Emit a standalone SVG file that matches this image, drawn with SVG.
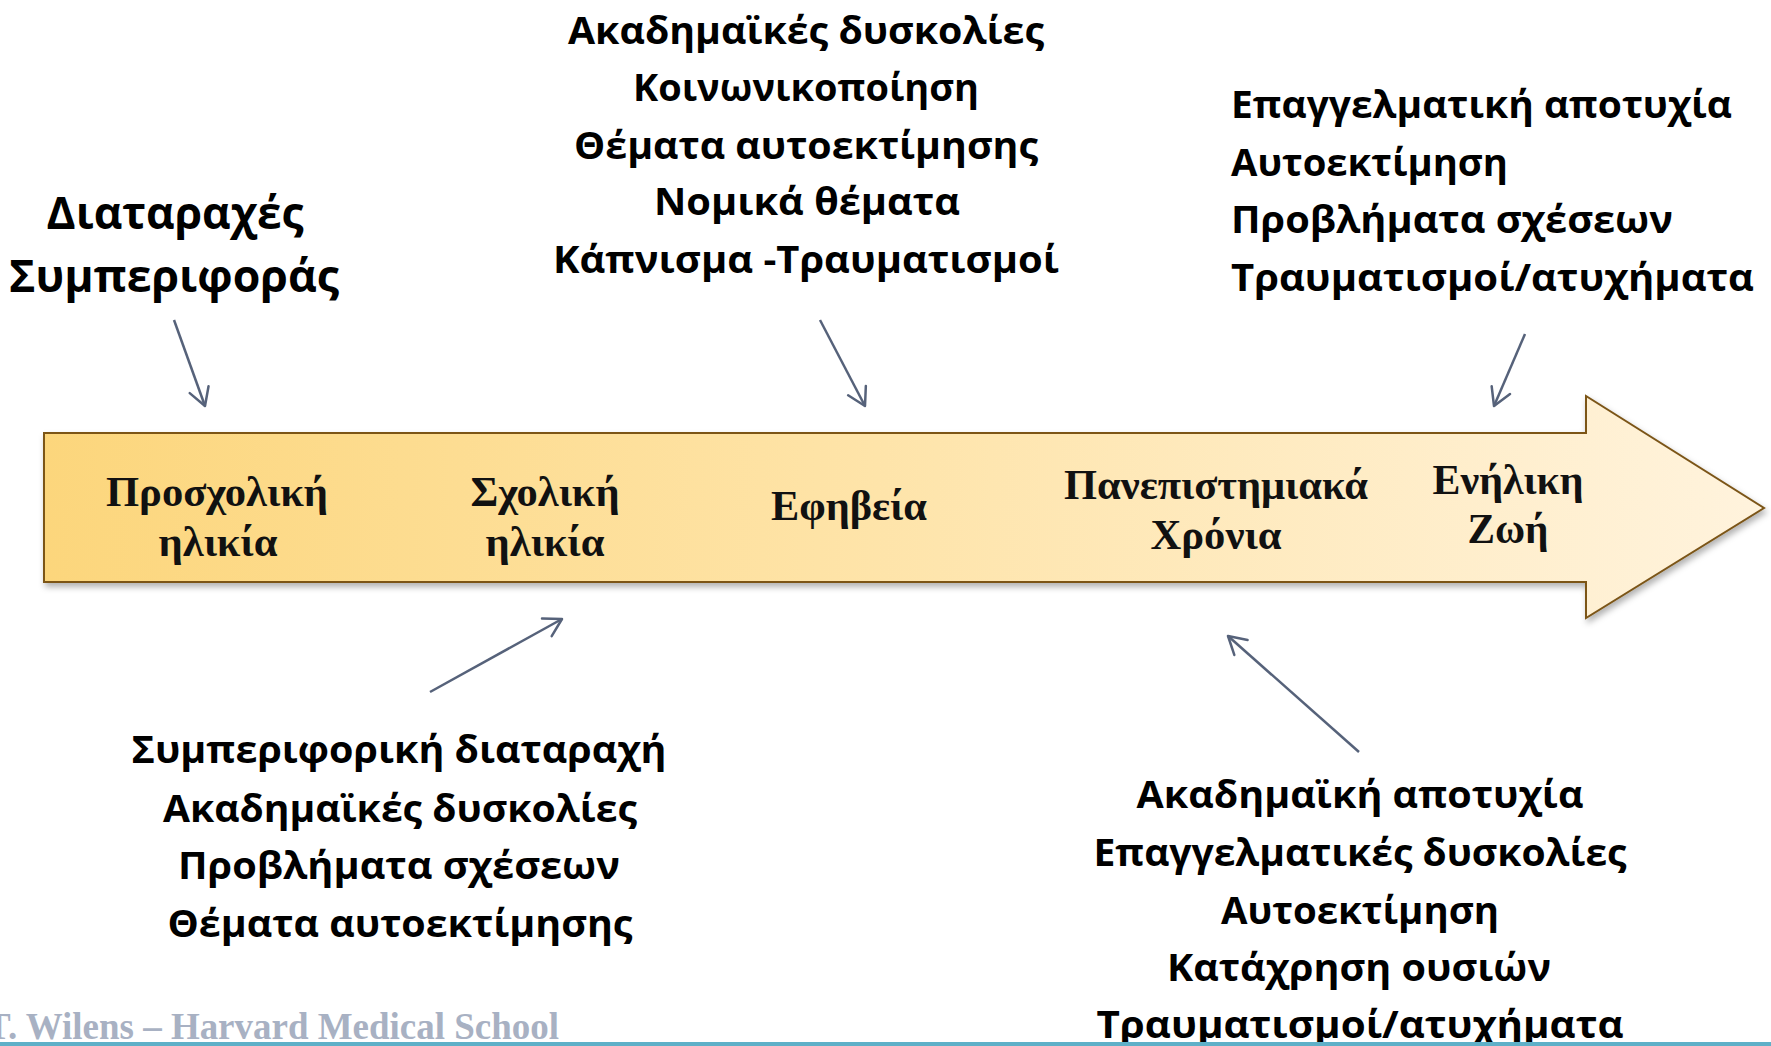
<svg xmlns="http://www.w3.org/2000/svg" width="1771" height="1046" viewBox="0 0 1771 1046">
  <style>
    .cal { font-family: "Open Sans", "Noto Sans", "DejaVu Sans", sans-serif; font-weight: 700; fill: #000; }
    .blk { font-size: 38px; }
    .big { font-size: 44px; }
    .ser { font-family: "Liberation Serif", "DejaVu Serif", serif; font-weight: 700; font-size: 43px; fill: #111; text-anchor: middle; }
    .mid { text-anchor: middle; }
    .conn { stroke: #56627a; stroke-width: 2.5; fill: none; marker-end: url(#ah); }
    .foot { font-family: "Liberation Serif", "DejaVu Serif", serif; font-weight: 700; font-size: 37px; fill: #a8b1c3; }
  </style>
  <defs>
    <linearGradient id="g" gradientUnits="userSpaceOnUse" x1="44" y1="0" x2="1764" y2="0">
      <stop offset="0" stop-color="#fcd67c"/>
      <stop offset="0.45" stop-color="#fee3a6"/>
      <stop offset="1" stop-color="#fff3dd"/>
    </linearGradient>
    <filter id="sh" x="-5%" y="-20%" width="110%" height="140%">
      <feDropShadow dx="2" dy="4" stdDeviation="3" flood-color="#000" flood-opacity="0.3"/>
    </filter>
    <marker id="ah" viewBox="0 0 22 22" refX="20" refY="11" markerWidth="22" markerHeight="22" markerUnits="userSpaceOnUse" orient="auto" overflow="visible">
      <path d="M2.7,1 L20,11 L2.7,21" fill="none" stroke="#56627a" stroke-width="2.5" stroke-linecap="round" stroke-linejoin="round"/>
    </marker>
  </defs>

  <rect width="1771" height="1046" fill="#fff"/>

  <g id="timeline">
    <polygon points="44,433 1586,433 1586,396 1764,508 1586,618 1586,582 44,582" fill="url(#g)" stroke="#7b5519" stroke-width="2" filter="url(#sh)"/>
  </g>

  <g id="stage-preschool">
    <text class="ser" x="217" y="506" textLength="222" lengthAdjust="spacingAndGlyphs">Προσχολική</text>
    <text class="ser" x="218" y="556" textLength="119" lengthAdjust="spacingAndGlyphs">ηλικία</text>
  </g>
  <g id="stage-school">
    <text class="ser" x="545" y="506" textLength="149" lengthAdjust="spacingAndGlyphs">Σχολική</text>
    <text class="ser" x="545" y="556" textLength="119" lengthAdjust="spacingAndGlyphs">ηλικία</text>
  </g>
  <g id="stage-adolescence">
    <text class="ser" x="849" y="520" textLength="156" lengthAdjust="spacingAndGlyphs">Εφηβεία</text>
  </g>
  <g id="stage-university">
    <text class="ser" x="1216" y="499" textLength="304" lengthAdjust="spacingAndGlyphs">Πανεπιστημιακά</text>
    <text class="ser" x="1216" y="549" textLength="131" lengthAdjust="spacingAndGlyphs">Χρόνια</text>
  </g>
  <g id="stage-adult">
    <text class="ser" x="1508" y="494" textLength="151" lengthAdjust="spacingAndGlyphs">Ενήλικη</text>
    <text class="ser" x="1508" y="543" textLength="81" lengthAdjust="spacingAndGlyphs">Ζωή</text>
  </g>

  <g id="note-preschool">
    <text class="cal big mid" x="175" y="229" textLength="257" lengthAdjust="spacingAndGlyphs">Διαταραχές</text>
    <text class="cal big mid" x="174" y="292" textLength="330" lengthAdjust="spacingAndGlyphs">Συμπεριφοράς</text>
  </g>

  <g id="note-adolescence">
    <text class="cal blk mid" x="806" y="44" textLength="476" lengthAdjust="spacingAndGlyphs">Ακαδημαϊκές δυσκολίες</text>
    <text class="cal blk mid" x="806" y="101" textLength="346" lengthAdjust="spacingAndGlyphs">Κοινωνικοποίηση</text>
    <text class="cal blk mid" x="806" y="159" textLength="464" lengthAdjust="spacingAndGlyphs">Θέματα αυτοεκτίμησης</text>
    <text class="cal blk mid" x="807" y="215" textLength="306" lengthAdjust="spacingAndGlyphs">Νομικά θέματα</text>
    <text class="cal blk mid" x="806" y="273" textLength="506" lengthAdjust="spacingAndGlyphs">Κάπνισμα -Τραυματισμοί</text>
  </g>

  <g id="note-adult">
    <text class="cal blk" x="1231" y="118" textLength="501" lengthAdjust="spacingAndGlyphs">Επαγγελματική αποτυχία</text>
    <text class="cal blk" x="1231" y="176" textLength="277" lengthAdjust="spacingAndGlyphs">Αυτοεκτίμηση</text>
    <text class="cal blk" x="1231" y="233" textLength="442" lengthAdjust="spacingAndGlyphs">Προβλήματα σχέσεων</text>
    <text class="cal blk" x="1231" y="291" textLength="523" lengthAdjust="spacingAndGlyphs">Τραυματισμοί/ατυχήματα</text>
  </g>

  <g id="note-school">
    <text class="cal blk mid" x="399" y="763" textLength="535" lengthAdjust="spacingAndGlyphs">Συμπεριφορική διαταραχή</text>
    <text class="cal blk mid" x="400" y="822" textLength="474" lengthAdjust="spacingAndGlyphs">Ακαδημαϊκές δυσκολίες</text>
    <text class="cal blk mid" x="399" y="879" textLength="442" lengthAdjust="spacingAndGlyphs">Προβλήματα σχέσεων</text>
    <text class="cal blk mid" x="400" y="937" textLength="465" lengthAdjust="spacingAndGlyphs">Θέματα αυτοεκτίμησης</text>
  </g>

  <g id="note-university">
    <text class="cal blk mid" x="1360" y="808" textLength="447" lengthAdjust="spacingAndGlyphs">Ακαδημαϊκή αποτυχία</text>
    <text class="cal blk mid" x="1360" y="866" textLength="533" lengthAdjust="spacingAndGlyphs">Επαγγελματικές δυσκολίες</text>
    <text class="cal blk mid" x="1360" y="924" textLength="278" lengthAdjust="spacingAndGlyphs">Αυτοεκτίμηση</text>
    <text class="cal blk mid" x="1359" y="981" textLength="384" lengthAdjust="spacingAndGlyphs">Κατάχρηση ουσιών</text>
    <text class="cal blk mid" x="1360" y="1038" textLength="527" lengthAdjust="spacingAndGlyphs">Τραυματισμοί/ατυχήματα</text>
  </g>

  <g id="connectors">
    <line class="conn" x1="174" y1="320" x2="205" y2="406"/>
    <line class="conn" x1="820" y1="320" x2="865" y2="406"/>
    <line class="conn" x1="1525" y1="334" x2="1494" y2="406"/>
    <line class="conn" x1="430" y1="692" x2="562" y2="619"/>
    <line class="conn" x1="1359" y1="752" x2="1228" y2="636"/>
  </g>

  <g id="footer">
    <text class="foot" x="-14" y="1039" textLength="573" lengthAdjust="spacingAndGlyphs">T. Wilens – Harvard Medical School</text>
    <rect x="0" y="1042" width="1771" height="4" fill="#5fb0c8"/>
  </g>
</svg>
